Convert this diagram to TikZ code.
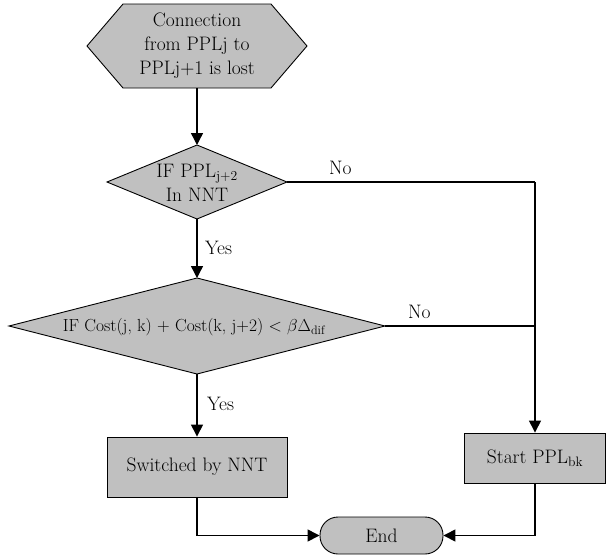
\documentclass[tikz,border=0pt]{standalone}
\usepackage{fontspec}
\usetikzlibrary{arrows.meta,shapes.geometric,calc}
\definecolor{boxgray}{RGB}{192,192,192}
\begin{document}
\begin{tikzpicture}[x=1pt,y=-1pt,
  every node/.style={font=\rmfamily\fontsize{19.5}{24}\selectfont},
  smalltext/.style={font=\rmfamily\fontsize{17.5}{22}\selectfont},
  shapebox/.style={draw=black,line width=0.9pt,fill=boxgray},
  anchorbox/.style={inner sep=0pt,outer sep=0pt},
  dia/.style={shapebox,diamond,inner sep=0pt,outer sep=0pt},
  conn/.style={line width=1.4pt},
  arr/.style={conn,-{Triangle[length=12pt,width=12pt]}},
  lbl/.style={inner sep=0pt,anchor=west}]
\useasboundingbox (0,0) rectangle (606,558);
% hexagon
\node[anchorbox,minimum width=220pt,minimum height=84pt] (hex) at (197,46) {};
\draw[shapebox] (hex.west) -- ($(hex.north west)+(36,0)$) -- ($(hex.north east)+(-36,0)$)
  -- (hex.east) -- ($(hex.south east)+(-36,0)$) -- ($(hex.south west)+(36,0)$) -- cycle;
\node[align=center,inner sep=0pt] (hext) at (197,46) {Connection\\from PPLj to\\PPLj+1 is lost};
% diamond 1
\node[dia,minimum width=180pt,minimum height=74pt] (d1) at (197,182) {};
\node[align=center,inner sep=0pt] (d1t) at (197,183) {IF PPL\textsubscript{j+2}\\In NNT};
% diamond 2
\node[dia,minimum width=376pt,minimum height=96pt] (d2) at (197,326) {};
\node[smalltext,inner sep=0pt] (d2t) at (194,327) {IF Cost(j, k) + Cost(k, j+2) < $\beta\Delta$\textsubscript{dif}};
% boxes
\node[shapebox,minimum width=180pt,minimum height=60pt,inner sep=0pt] (sw) at (197,467) {Switched by NNT};
\node[shapebox,minimum width=141pt,minimum height=50pt,inner sep=0pt] (st) at (535,458) {Start PPL\textsubscript{bk}};
\node[shapebox,rounded corners=18pt,minimum width=123pt,minimum height=37pt,inner sep=0pt] (en) at (381.5,535.5) {End};
% connectors
\draw[arr] (hex.south) -- (d1.north);
\draw[arr] (d1.south) -- (d2.north);
\draw[arr] (d2.south) -- (sw.north);
\coordinate (j1) at (d1.east -| st.north);
\coordinate (j2) at (d2.east -| st.north);
\draw[conn] (d1.east) -- (j1);
\draw[conn] (d2.east) -- (j2);
\draw[arr] (j1) -- (st.north);
\draw[arr] (sw.south) |- (en.west);
\draw[arr] (st.south) |- (en.east);
% labels
\node[lbl] (no1) at (329,168) {No};
\node[lbl] (no2) at (408,312) {No};
\node[lbl] (yes1) at (205,248) {Yes};
\node[lbl] (yes2) at (207,404) {Yes};
\end{tikzpicture}
\end{document}
